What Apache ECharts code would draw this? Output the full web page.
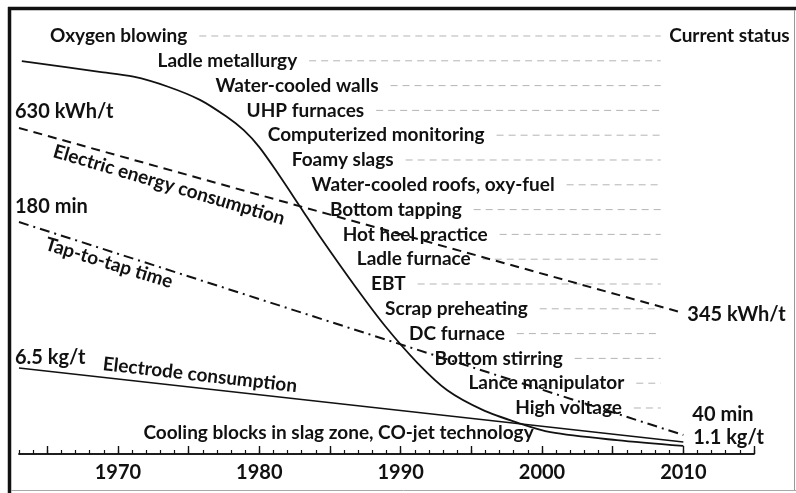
<!DOCTYPE html>
<html>
<head>
<meta charset="utf-8">
<script src="https://cdn.jsdelivr.net/npm/echarts@6/dist/echarts.min.js"></script>
<style>
html, body { margin: 0; padding: 0; background: #fff; }
#chart { width: 796px; height: 493px; }
</style>
</head>
<body>
<div id="chart"></div>
<script>
// development curve (relative index, % of full height)
const curveYears = [1963.2, 1968.7, 1971.1, 1973.5, 1975.8, 1977.7, 1978.9, 1980.0, 1981.3, 1982.9, 1984.3, 1986.8, 1988.9, 1991.2, 1993.3, 1995.8, 1998.3, 2000.6, 2005.3, 2010]
const curveValues = [88.1, 85.7, 84.6, 82.4, 79.4, 75.6, 72.6, 68.8, 63.0, 55.4, 48.7, 37.5, 28.7, 20.4, 14.3, 9.9, 7.0, 4.9, 3.1, 1.8]

// start / end values of the three consumption lines
const lineYears = [1963, 2010]
const energyValues = [630, 345]      // kWh/t
const tapValues = [180, 40]          // min
const electrodeValues = [6.5, 1.1]   // kg/t

// innovations, row by row
const innovationNames = [
    'Oxygen blowing', 'Ladle metallurgy', 'Water-cooled walls', 'UHP furnaces',
    'Computerized monitoring', 'Foamy slags', 'Water-cooled roofs, oxy-fuel', 'Bottom tapping',
    'Hot heel practice', 'Ladle furnace', 'EBT', 'Scrap preheating', 'DC furnace',
    'Bottom stirring', 'Lance manipulator', 'High voltage', 'Cooling blocks in slag zone, CO-jet technology'
]
const innovationYears = [1965.2, 1972.8, 1976.9, 1979.1, 1980.6, 1982.3, 1983.7, 1985.0,
    1985.9, 1986.9, 1987.9, 1988.9, 1990.6, 1992.4, 1994.8, 1998.1, 1971.8]
const innovationLeader = [1, 1, 1, 1, 1, 1, 1, 1, 1, 1, 1, 1, 1, 1, 1, 1, 0]
const currentStatusYear = 2008.4

const tickYears = []
for (let y = 1963; y <= 2015; y++) tickYears.push(y)
const majorTickYears = [1965, 1970, 1975, 1980, 1985, 1990, 1995, 2000, 2005, 2010, 2015]
const labelYears = [1970, 1980, 1990, 2000, 2010]

const FONT_FAMILY = 'Lato'
const TEXT_FONT = 'bold 19px ' + FONT_FAMILY
const VALUE_FONT = 'bold 20px ' + FONT_FAMILY
const measureCtx = document.createElement('canvas').getContext('2d')
function textWidth(t) {
    measureCtx.font = TEXT_FONT
    return measureCtx.measureText(t).width
}

function pairs(xs, ys) {
    return xs.map((x, i) => [x, ys[i]])
}

function renderInnovation(params, api) {
    const i = api.value(2)
    const p = api.coord([api.value(0), api.value(1)])
    const end = api.coord([currentStatusYear, api.value(1)])
    const children = [{
        type: 'text',
        style: {
            text: innovationNames[i], x: p[0], y: p[1], font: TEXT_FONT, fill: '#111',
            align: 'left', verticalAlign: 'middle', textAlign: 'left', textVerticalAlign: 'middle'
        }
    }]
    if (innovationLeader[i]) {
        const x1 = p[0] + textWidth(innovationNames[i]) + 12
        children.push({
            type: 'line',
            shape: { x1: x1, y1: p[1], x2: end[0], y2: p[1] },
            style: { stroke: '#b4b4b4', lineWidth: 1, lineDash: [7, 5] }
        })
    }
    return { type: 'group', children: children }
}

const hiddenY = (min, max, inverse, gridIndex) => ({
    type: 'value', show: false, min: min, max: max, inverse: !!inverse, gridIndex: gridIndex || 0
})
const gridBox = { left: 19, right: 42, top: 8, bottom: 39, outerBoundsMode: 'none', containLabel: false }

const option = {
    animation: false,
    backgroundColor: '#fff',
    grid: [gridBox, Object.assign({}, gridBox)],
    xAxis: [
        {
            type: 'value', gridIndex: 0, min: 1963, max: 2015, position: 'bottom',
            axisLine: { show: true, lineStyle: { color: '#111', width: 1.5 } },
            axisTick: { show: true, inside: true, length: 4, customValues: tickYears, lineStyle: { color: '#111', width: 1.2 } },
            axisLabel: {
                show: true, customValues: labelYears, margin: 9,
                color: '#111', fontSize: 20, fontWeight: 'bold', fontFamily: FONT_FAMILY,
                formatter: (v) => String(v)
            },
            splitLine: { show: false }
        },
        {
            // longer ticks every five years
            type: 'value', gridIndex: 1, min: 1963, max: 2015, position: 'bottom',
            axisLine: { show: true, lineStyle: { color: '#111', width: 1.5 } },
            axisTick: { show: true, inside: true, length: 8, customValues: majorTickYears, lineStyle: { color: '#111', width: 1.4 } },
            axisLabel: { show: false },
            splitLine: { show: false }
        }
    ],
    yAxis: [
        hiddenY(0, 100),
        hiddenY(127.8, 814.8),
        hiddenY(27.5, 320.7),
        hiddenY(0.224, 32.77),
        hiddenY(-1.129, 16.855, true),
        hiddenY(0, 1, false, 1)
    ],
    series: [
        {
            type: 'custom', name: 'Innovations', xAxisIndex: 0, yAxisIndex: 4, clip: false,
            renderItem: renderInnovation,
            data: innovationNames.map((n, i) => [innovationYears[i], i, i]),
            encode: { x: 0, y: 1 }, z: 1
        },
        {
            type: 'line', name: 'Development', yAxisIndex: 0, smooth: 0.3, symbol: 'none',
            data: pairs(curveYears, curveValues),
            lineStyle: { color: '#111', width: 1.8 }, z: 3
        },
        {
            type: 'line', name: 'Electric energy consumption', yAxisIndex: 1, symbol: 'none',
            data: pairs(lineYears, energyValues),
            lineStyle: { color: '#111', width: 2, type: [9, 6] }, z: 3
        },
        {
            type: 'line', name: 'Tap-to-tap time', yAxisIndex: 2, symbol: 'none',
            data: pairs(lineYears, tapValues),
            lineStyle: { color: '#111', width: 2, type: [10, 5, 2, 5] }, z: 3
        },
        {
            type: 'line', name: 'Electrode consumption', yAxisIndex: 3, symbol: 'none',
            data: pairs(lineYears, electrodeValues),
            lineStyle: { color: '#111', width: 1.6 }, z: 3
        }
    ]
}

const myChart = echarts.init(document.getElementById('chart'))
myChart.setOption(option)

// annotation texts, placed from the line end points
function px(yAxisIndex, point) {
    return myChart.convertToPixel({ xAxisIndex: 0, yAxisIndex: yAxisIndex }, point)
}
function label(text, p, dx, dy, rotationDeg, align, font) {
    return {
        type: 'text', x: p[0] + dx, y: p[1] + dy, rotation: (rotationDeg || 0) * Math.PI / 180,
        z: 10,
        style: {
            text: text, font: font || VALUE_FONT, fill: '#111',
            align: align || 'left', verticalAlign: 'middle',
            textAlign: align || 'left', textVerticalAlign: 'middle'
        }
    }
}
const eStart = px(1, [lineYears[0], energyValues[0]])
const eEnd = px(1, [lineYears[1], energyValues[1]])
const tStart = px(2, [lineYears[0], tapValues[0]])
const tEnd = px(2, [lineYears[1], tapValues[1]])
const dStart = px(3, [lineYears[0], electrodeValues[0]])
const dEnd = px(3, [lineYears[1], electrodeValues[1]])
const statusPos = px(4, [2009.0, 0])

myChart.setOption({
    graphic: [
        label(energyValues[0] + ' kWh/t', eStart, -4, -16),
        label(energyValues[1] + ' kWh/t', eEnd, 4, 2),
        label(tapValues[0] + ' min', tStart, -4, -15),
        label(tapValues[1] + ' min', tEnd, 9, -20),
        label(electrodeValues[0] + ' kg/t', dStart, -4, -10),
        label(electrodeValues[1] + ' kg/t', dEnd, 10, -4),
        label('Current status', statusPos, 0, 0, 0, 'left', TEXT_FONT),
        label('Electric energy consumption', [169, 185], 0, 0, -16.5, 'center', TEXT_FONT),
        label('Tap-to-tap time', [109, 263], 0, 0, -17, 'center', TEXT_FONT),
        label('Electrode consumption', [200, 375], 0, 0, -6.5, 'center', TEXT_FONT),
        // frame
        { type: 'line', z: 20, shape: { x1: 9.5, y1: 7, x2: 9.5, y2: 493 }, style: { stroke: '#111', lineWidth: 3.5 } },
        { type: 'line', z: 20, shape: { x1: 8, y1: 8.5, x2: 796, y2: 8.5 }, style: { stroke: '#111', lineWidth: 3.5 } },
        { type: 'line', z: 20, shape: { x1: 794.5, y1: 10, x2: 794.5, y2: 491 }, style: { stroke: '#9a9a9a', lineWidth: 1 } },
        { type: 'line', z: 20, shape: { x1: 11, y1: 490.5, x2: 796, y2: 490.5 }, style: { stroke: '#a8a8a8', lineWidth: 1 } }
    ]
})

window.addEventListener('resize', () => {
    myChart.resize()
})
</script>
</body>
</html>
